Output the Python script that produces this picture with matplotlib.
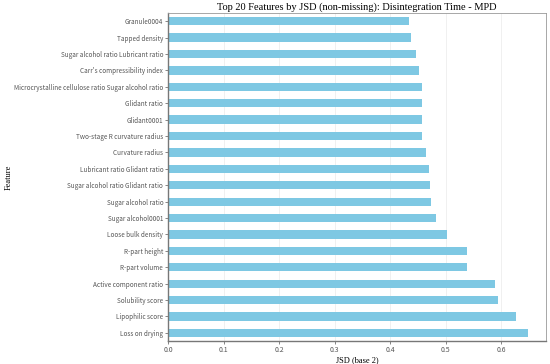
import matplotlib
matplotlib.use("Agg")
from matplotlib import pyplot as plt
import numpy as np

# 上から順 (表示順)
features = [
    "Granule0004",
    "Tapped density",
    "Sugar alcohol ratio Lubricant ratio",
    "Carr's compressibility index",
    "Microcrystalline cellulose ratio Sugar alcohol ratio",
    "Glidant ratio",
    "Glidant0001",
    "Two-stage R curvature radius",
    "Curvature radius",
    "Lubricant ratio Glidant ratio",
    "Sugar alcohol ratio Glidant ratio",
    "Sugar alcohol ratio",
    "Sugar alcohol0001",
    "Loose bulk density",
    "R-part height",
    "R-part volume",
    "Active component ratio",
    "Solubility score",
    "Lipophilic score",
    "Loss on drying",
]
jsd = [0.433, 0.438, 0.446, 0.451, 0.457, 0.457, 0.458, 0.458, 0.465, 0.469,
       0.472, 0.474, 0.483, 0.502, 0.538, 0.538, 0.588, 0.594, 0.626, 0.648]

serif = ["Liberation Serif", "DejaVu Serif"]
sans = ["Noto Sans CJK JP", "DejaVu Sans"]

fig = plt.figure(figsize=(5.5, 3.64), dpi=100)
ax = fig.add_axes([168 / 550, 1 - 341 / 364, 378 / 550, 328 / 364])

# 下から描く
y = np.arange(len(features))
ax.barh(y, jsd[::-1], height=0.5, color="#7EC8E3", zorder=2)
ax.set_yticks(y)
ax.set_yticklabels(features[::-1], fontsize=4.6, family=sans, color="#222222")
ax.set_ylim(-0.5, len(features) - 0.5)
ax.set_xlim(0, max(jsd) * 1.05)
ax.set_xticks([0.0, 0.1, 0.2, 0.3, 0.4, 0.5, 0.6])
for lab in ax.get_xticklabels():
    lab.set_family(sans)
    lab.set_fontsize(5)
    lab.set_color("#222222")

ax.grid(axis="x", color="#dddddd", linewidth=0.5, alpha=0.6, zorder=0)
ax.tick_params(length=2, width=0.5, pad=1.5, colors="#555555")

for s in ["top", "right"]:
    ax.spines[s].set_color("#999999")
    ax.spines[s].set_linewidth(0.6)
for s in ["left", "bottom"]:
    ax.spines[s].set_color("#777777")
    ax.spines[s].set_linewidth(1.0)

ax.set_title("Top 20 Features by JSD (non-missing): Disintegration Time - MPD",
             fontsize=7.5, family=serif, pad=2)
ax.set_xlabel("JSD (base 2)", fontsize=6, family=serif, labelpad=2)
ax.set_ylabel("Feature", fontsize=6, family=serif, labelpad=2)
ax.yaxis.set_label_coords(-0.41, 0.5)

fig.savefig("out.png", dpi=100)
